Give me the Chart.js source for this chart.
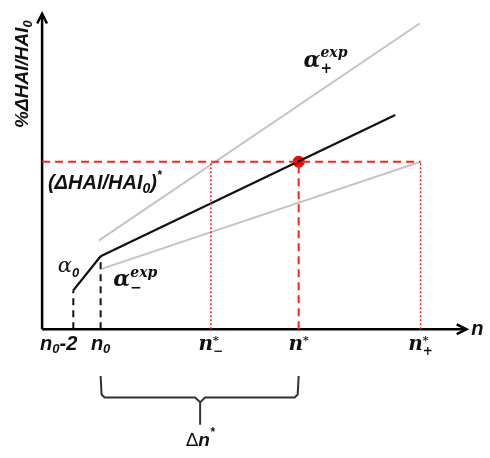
<!DOCTYPE html>
<html>
<head>
<meta charset="utf-8">
<script src="https://cdn.jsdelivr.net/npm/chart.js@4"></script>
<style>
  html, body { margin: 0; padding: 0; background: #fff; }
  canvas { display: block; }
</style>
</head>
<body>
<canvas id="myChart" width="490" height="458"></canvas>
<script>
// diagram units: x = n (0 at the y axis), y = %ΔHAI/HAI0 (0 at the x axis)
const nTicks = [32, 60, 173, 263, 388];   // n0-2, n0, n-*, n*, n+*
const alpha0N = [32, 60];
const alpha0Y = [40, 75];
const fitN = [60, 362];                   // black line, slope alpha_exp
const fitY = [75, 220];
const upperN = [58, 387];                 // alpha+exp
const upperY = [91, 314];
const lowerN = [61, 388];                 // alpha-exp
const lowerY = [62, 172];
const targetY = 172;                      // (ΔHAI/HAI0)*
const axisEndN = 435;
const axisEndY = 324;
const braceN = [60, 61, 64, 157, 162, 162, 162, 167, 259, 262, 263];
const braceY = [-48, -67, -70, -70, -75, -98, -75, -70, -70, -67, -48];

const SANS = '"Liberation Sans", Arial, sans-serif';
const SERIF = '"DejaVu Serif", serif';
const sans = s => 'italic bold ' + s + 'px ' + SANS;
const serif = s => 'italic bold ' + s + 'px ' + SERIF;
const serifIt = s => 'italic ' + s + 'px ' + SERIF;

// text pieces: [text, font, dy, stackOnPrevious]
const labels = [
  { x: -20, y: 262, rot: true, align: 'center',
    parts: [['%ΔHAI/HAI', sans(19), 0], ['0', sans(13), 6]] },
  { x: 6, y: 150, align: 'left',
    parts: [['(ΔHAI/HAI', sans(20), 0], ['0', sans(14), 6], [')', sans(20), 0], ['*', sans(12), -8]] },
  { x: 16, y: 64, align: 'left',
    parts: [['α', serifIt(21), 0], ['0', sans(13), 6]] },
  { x: 73, y: 50, align: 'left',
    parts: [['α', serif(22), 0], ['exp', serif(14), -7], ['−', serif(14), 8, true]] },
  { x: 268, y: 275, align: 'left',
    parts: [['α', serif(22), 0], ['exp', serif(14), -8], ['+', serif(14), 8, true]] },
  { x: nTicks[0] - 15, y: -16, align: 'center',
    parts: [['n', sans(20), 0], ['0', sans(13), 5], ['-2', sans(20), 0]] },
  { x: nTicks[1], y: -16, align: 'center',
    parts: [['n', sans(20), 0], ['0', sans(13), 5]] },
  { x: nTicks[2], y: -16, align: 'center',
    parts: [['n', serif(20), 0], ['*', serif(11), -4], ['−', serif(12), 7, true]] },
  { x: nTicks[3], y: -16, align: 'center',
    parts: [['n', serif(20), 0], ['*', serif(11), -4]] },
  { x: nTicks[4], y: -16, align: 'center',
    parts: [['n', serif(20), 0], ['*', serif(11), -4], ['+', serif(12), 7, true]] },
  { x: 440, y: 0, align: 'left',
    parts: [['n', sans(20), 0]] },
  { x: 162, y: -114, align: 'center',
    parts: [['Δ', '19px ' + SANS, 0], ['n', sans(19), 0], ['*', sans(12), -8]] }
];

function pts(xs, ys) {
  return xs.map((x, i) => ({ x: x, y: ys[i] }));
}

function line(data, color, width, dash) {
  return {
    data: data, showLine: true, borderColor: color, borderWidth: width,
    borderDash: dash || [], pointRadius: 0, fill: false, tension: 0
  };
}

const datasets = [
  // red guide lines
  line([{ x: 0, y: targetY }, { x: nTicks[4], y: targetY }], '#ff2020', 2, [8, 5]),
  line([{ x: nTicks[3], y: 0 }, { x: nTicks[3], y: targetY }], '#ff2020', 2, [8, 5]),
  line([{ x: nTicks[2], y: 0 }, { x: nTicks[2], y: targetY }], '#ff2020', 1.5, [2, 2]),
  line([{ x: nTicks[4], y: 0 }, { x: nTicks[4], y: targetY }], '#ff2020', 1.5, [2, 2]),
  // black dashed drops
  line([{ x: nTicks[0], y: 0 }, { x: nTicks[0], y: alpha0Y[0] }], '#111', 2, [7, 5]),
  line([{ x: nTicks[1], y: 0 }, { x: nTicks[1], y: alpha0Y[1] }], '#111', 2, [7, 5]),
  // gray bounds
  line(pts(upperN, upperY), '#c4c4c4', 2),
  line(pts(lowerN, lowerY), '#c4c4c4', 2),
  // black curve
  line(pts(alpha0N, alpha0Y), '#111', 2.3),
  line(pts(fitN, fitY), '#111', 2.3),
  // axes and arrows
  line([{ x: 0, y: 0 }, { x: axisEndN - 2, y: 0 }], '#000', 2.5),
  line([{ x: 0, y: 0 }, { x: 0, y: axisEndY - 2 }], '#000', 2.5),
  line([{ x: axisEndN - 10, y: 5 }, { x: axisEndN, y: 0 }, { x: axisEndN - 10, y: -5 }], '#000', 2.5),
  line([{ x: -5, y: axisEndY - 10 }, { x: 0, y: axisEndY }, { x: 5, y: axisEndY - 10 }], '#000', 2.5),
  // brace
  line(pts(braceN, braceY), '#333', 2),
  // target point
  {
    data: [{ x: nTicks[3], y: targetY }], showLine: false,
    pointRadius: 6, pointBackgroundColor: '#ff0000', pointBorderWidth: 0
  }
];

const textPlugin = {
  id: 'diagramText',
  afterDatasetsDraw(chart) {
    const ctx = chart.ctx;
    const sx = chart.scales.x, sy = chart.scales.y;
    ctx.save();
    ctx.fillStyle = '#111';
    ctx.textBaseline = 'middle';
    ctx.textAlign = 'left';
    labels.forEach(lb => {
      // measure
      let cx = 0, prevStart = 0, prevW = 0;
      const placed = [];
      lb.parts.forEach(p => {
        ctx.font = p[1];
        const w = ctx.measureText(p[0]).width;
        if (p[3]) {
          placed.push({ p: p, x: prevStart });
          cx = prevStart + Math.max(prevW, w);
        } else {
          placed.push({ p: p, x: cx });
          prevStart = cx; prevW = w; cx += w;
        }
      });
      const px = sx.getPixelForValue(lb.x);
      const py = sy.getPixelForValue(lb.y);
      const off = lb.align === 'center' ? -cx / 2 : 0;
      ctx.save();
      ctx.translate(px, py);
      if (lb.rot) ctx.rotate(-Math.PI / 2);
      placed.forEach(o => {
        ctx.font = o.p[1];
        ctx.fillText(o.p[0], off + o.x, o.p[2]);
      });
      ctx.restore();
    });
    ctx.restore();
  }
};

new Chart(document.getElementById('myChart').getContext('2d'), {
  type: 'scatter',
  data: { datasets: datasets },
  options: {
    responsive: false,
    animation: false,
    layout: { padding: 0 },
    plugins: { legend: { display: false }, tooltip: { enabled: false } },
    scales: {
      x: { type: 'linear', display: false, min: -37, max: 453 },
      y: { type: 'linear', display: false, min: -126, max: 332 }
    }
  },
  plugins: [textPlugin]
});
</script>
</body>
</html>
